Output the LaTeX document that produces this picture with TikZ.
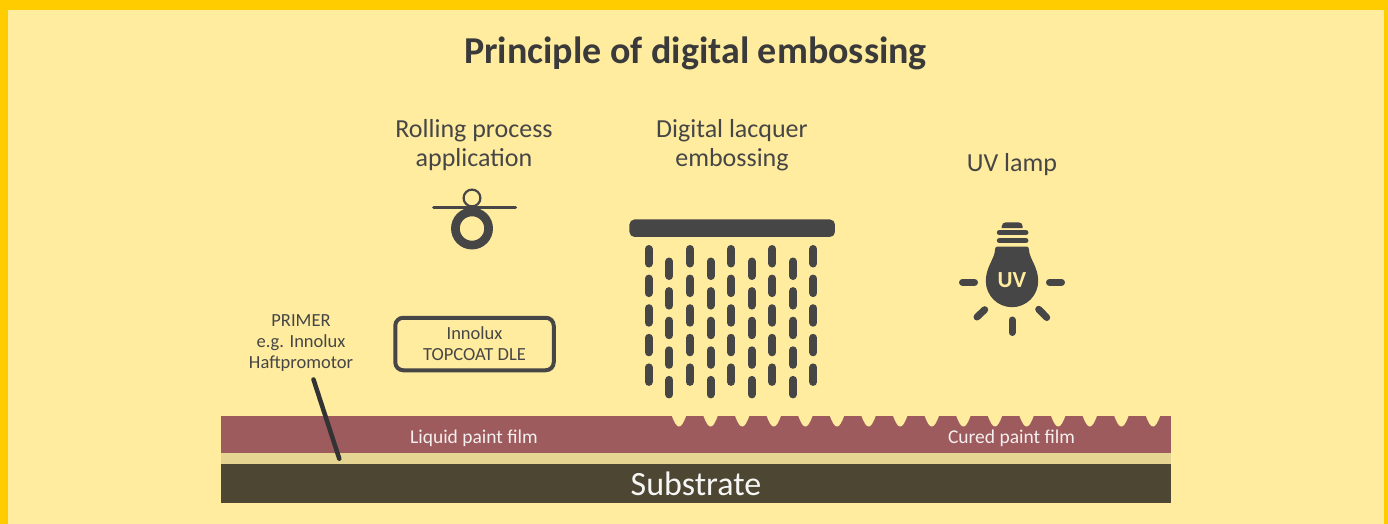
\documentclass[tikz,border=0pt]{standalone}
\usepackage{fontspec}
\setmainfont{Carlito}
\definecolor{frameyellow}{HTML}{FFCC00}
\definecolor{creamback}{HTML}{FFEC9F}
\definecolor{darkgrey}{HTML}{464646}
\definecolor{titlegrey}{HTML}{3A3A3A}
\definecolor{paintred}{HTML}{9E5B5E}
\definecolor{primerbeige}{HTML}{E6D592}
\definecolor{substratebrown}{HTML}{4C4632}
\tikzset{
  every node/.style = {
    inner sep = 0pt,
    outer sep = 0pt
  },
  heading/.style = {
    align = center,
    text = darkgrey,
    font = \fontsize{26}{29}\selectfont
  },
  smalllabel/.style = {
    align = center,
    text = darkgrey,
    font = \fontsize{18.5}{21}\selectfont
  },
  filmlabel/.style = {
    text = white!90!paintred,
    font = \fontsize{19.5}{22}\selectfont
  },
  droplet/.style = {
    darkgrey,
    line width = 8pt,
    line cap = round
  },
  lampray/.style = {
    darkgrey,
    line width = 7pt,
    line cap = round
  },
  bulbthread/.style = {
    darkgrey,
    line width = 5.5pt,
    line cap = round
  }
}
\begin{document}
\begin{tikzpicture}[x=1pt, y=-1pt]
  \useasboundingbox (0,0) rectangle (1388,524);
  \fill [frameyellow] (0,0) rectangle (1388,524);
  \fill [creamback] (8,10) rectangle (1384,524);

  % title and headings
  \node (title) [text=titlegrey, font=\fontsize{38}{42}\selectfont\bfseries] at (695.5,53) {Principle of digital embossing};
  \node (rolling) [heading] at (474,145) {Rolling process\\application};
  \node (embossing) [heading] at (732,145) {Digital lacquer\\embossing};
  \node (uvlamp) [heading] at (1012,165) {UV lamp};

  % paint layers
  \fill [paintred] (221,415.5) rectangle (1171,453);
  \foreach \i in {0,...,15} {
    \fill [creamback] ({679+31.6*\i-7.5},415) .. controls ({679+31.6*\i-4.5},423) and ({679+31.6*\i-2.5},426.5) .. ({679+31.6*\i},426.5)
      .. controls ({679+31.6*\i+2.5},426.5) and ({679+31.6*\i+4.5},423) .. ({679+31.6*\i+7.5},415) -- cycle;
  }
  \node (primerlayer) [fill=primerbeige, minimum width=950pt, minimum height=11pt, anchor=north west] at (221,453) {};
  \node (substrate) [fill=substratebrown, text=white!95!substratebrown, minimum width=950pt, minimum height=39pt, anchor=north west,
    font=\fontsize{34}{38}\selectfont] at (221,464) {Substrate};
  \node (liquidfilm) [filmlabel] at (474,438) {Liquid paint film};
  \node (curedfilm) [filmlabel] at (1011.5,438) {Cured paint film};

  % primer pointer
  \node (primer) [smalllabel] at (301,343) {PRIMER\\e.g. Innolux\\Haftpromotor};
  \coordinate (primerstart) at (313.5,379.5);
  \coordinate (primerend) at (339.3,458.7);
  \draw [black!80, line width=4.5pt, line cap=round] (primerstart) -- (primerend);

  % roller
  \draw [darkgrey, line width=2.2pt, fill=creamback] (472,198) circle (8.4);
  \draw [darkgrey, line width=8.7pt] (472,228.5) circle (16.6);
  \draw [darkgrey, line width=3pt, line cap=round] (433.5,207.7) -- (515.5,207.7);

  % topcoat box
  \node (topcoat) [smalllabel, draw=darkgrey, line width=4pt, rounded corners=8pt, minimum width=158.5pt, minimum height=52.5pt] at (474.5,344) {Innolux\\TOPCOAT DLE};

  % print head
  \node (printhead) [fill=darkgrey, rounded corners=5pt, minimum width=205.5pt, minimum height=17.5pt] at (732.2,228.2) {};
  \foreach \x in {648.7,690,731,772.3,813.3} {
    \foreach \y in {0,...,4} {
      \draw [droplet] (\x,{249+29.6*\y}) -- (\x,{263.5+29.6*\y});
    }
  }
  \foreach \x in {669.3,710.5,751.7,793} {
    \foreach \y in {0,...,4} {
      \draw [droplet] (\x,{261.5+29.6*\y}) -- (\x,{276+29.6*\y});
    }
  }

  % lamp
  \fill [darkgrey] (1001.7,228) -- (1001.7,226.5) .. controls (1001.7,224) and (1003.5,222.3) .. (1006,222.3) -- (1018.5,222.3)
    .. controls (1021,222.3) and (1022.7,224) .. (1022.7,226.5) -- (1022.7,228) -- cycle;
  \draw [bulbthread] (999.5,232.7) -- (1025.7,232.7);
  \draw [bulbthread] (999.5,240.7) -- (1025.7,240.7);
  \fill [darkgrey] (997,246.7) -- (1027,246.7) .. controls (1028.5,246.7) and (1029,248) .. (1029,250)
    .. controls (1029.5,259) and (1038.2,267) .. (1038.2,281) arc (0:180:26.2)
    .. controls (985.8,267) and (994.5,259) .. (995,250) .. controls (995,248) and (995.5,246.7) .. (997,246.7) -- cycle;
  \node (uvtext) [text=creamback, font=\fontsize{23}{26}\selectfont\bfseries] at (1012,280) {UV};
  \draw [lampray] (962.5,282.3) -- (974.5,282.3);
  \draw [lampray] (1049.5,282.3) -- (1061.5,282.3);
  \draw [lampray] (1012,320) -- (1012,332.5);
  \draw [lampray] (984.7,309.7) -- (977,317);
  \draw [lampray] (1038.7,309.3) -- (1046.7,317.5);
\end{tikzpicture}
\end{document}
